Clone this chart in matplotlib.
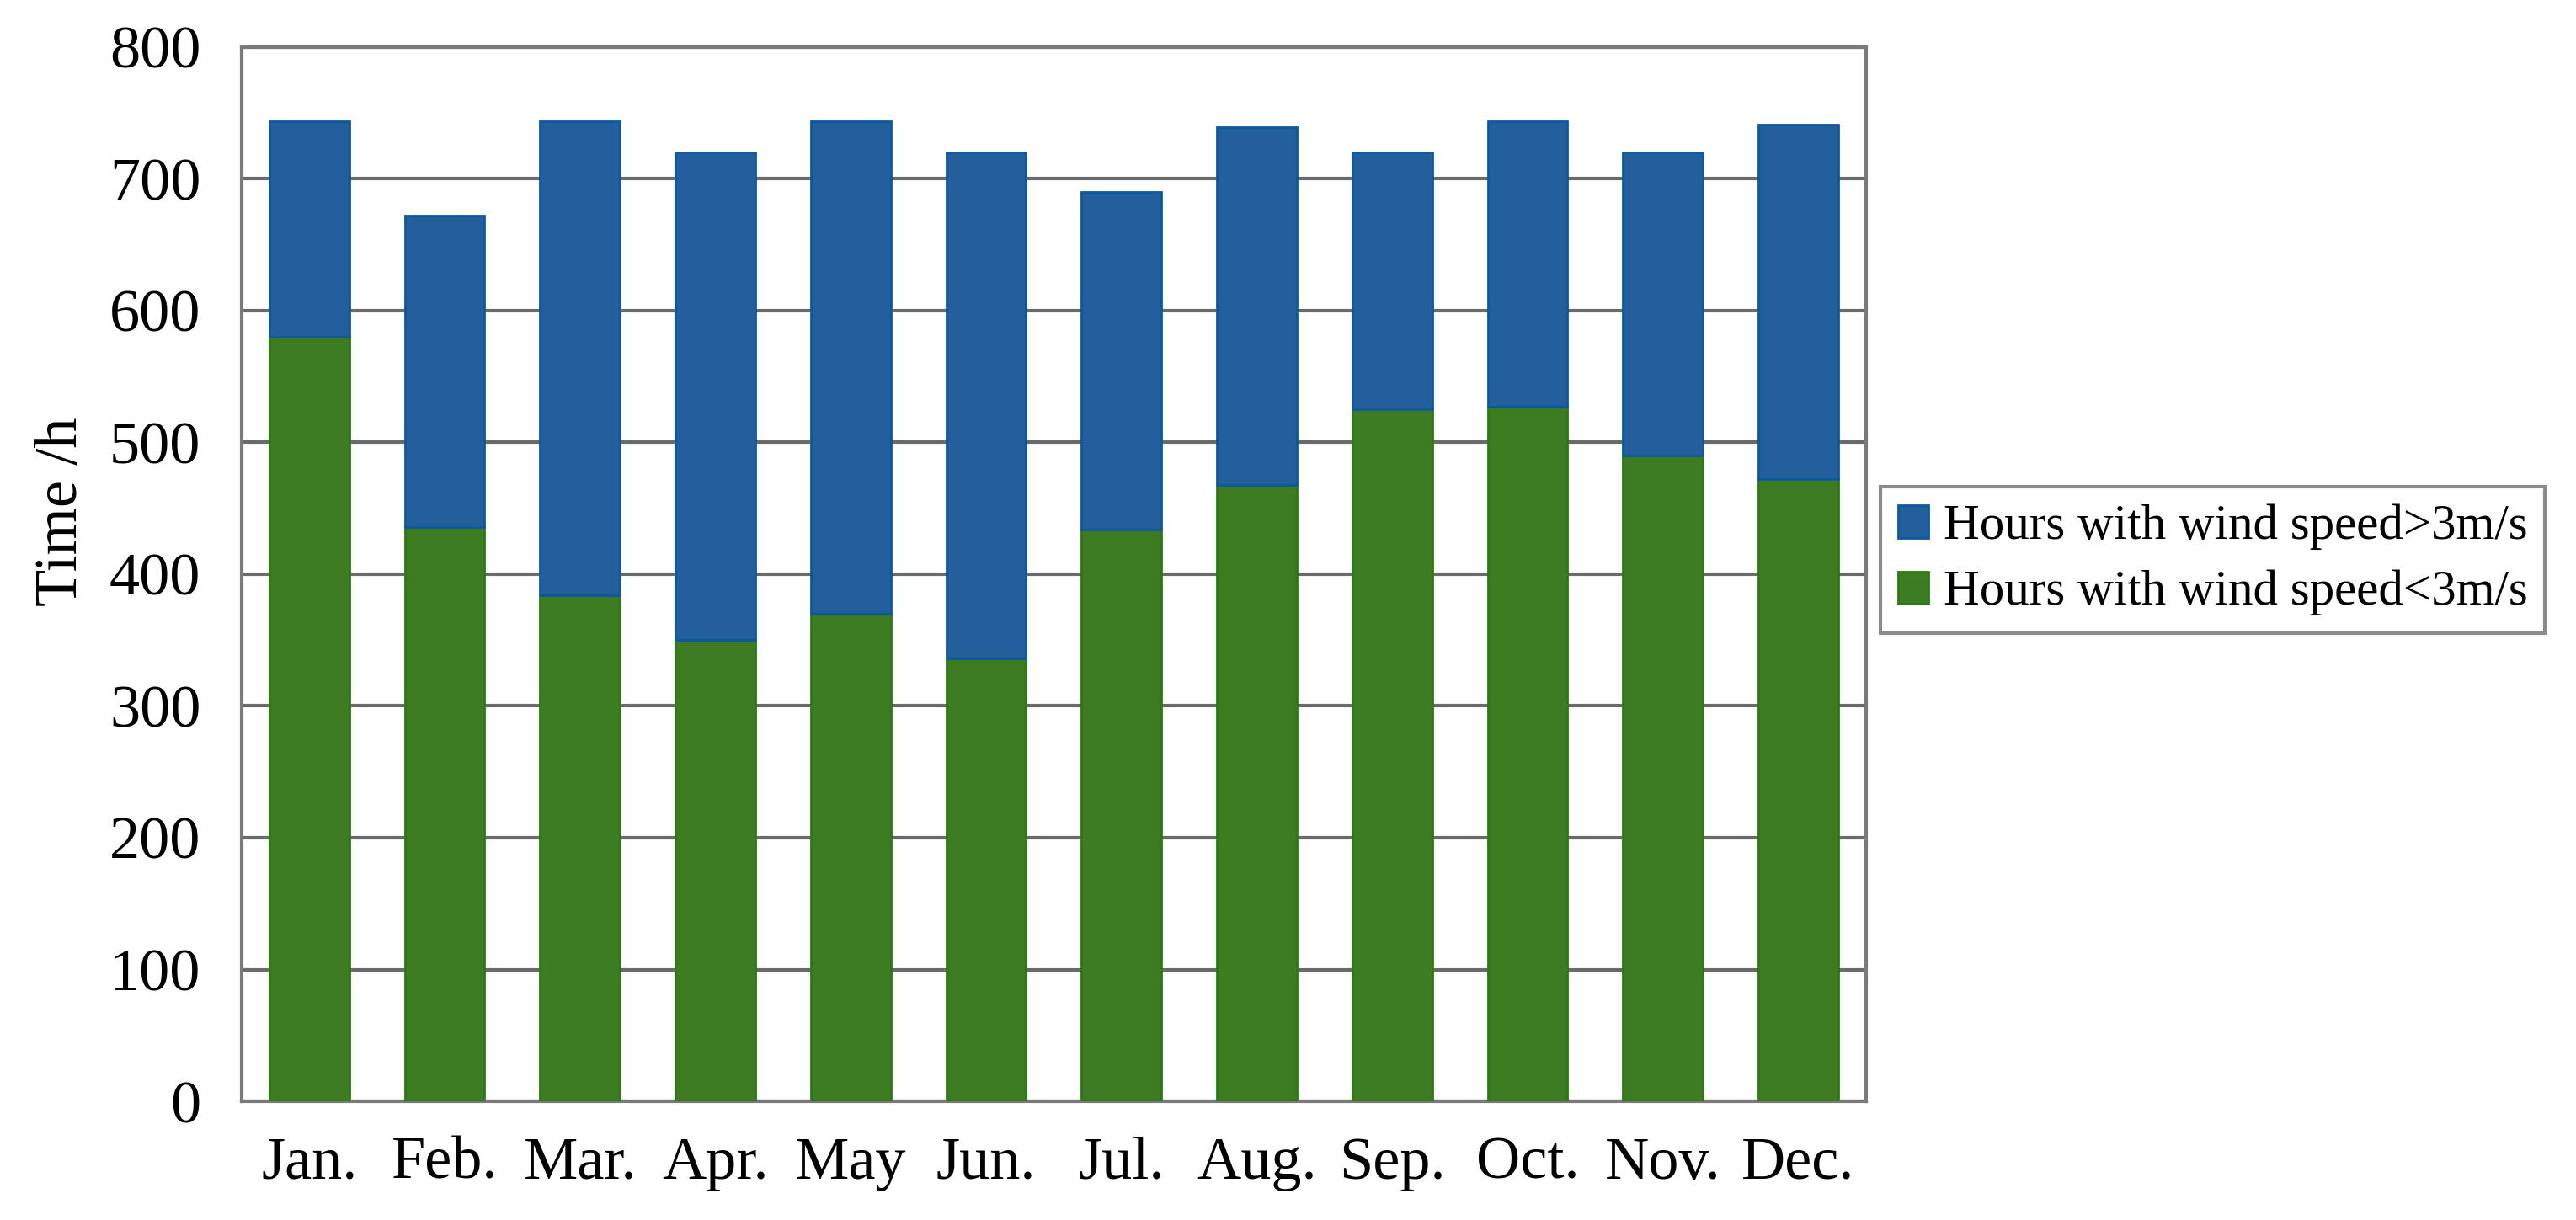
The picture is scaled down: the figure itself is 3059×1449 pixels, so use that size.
import numpy as np
import matplotlib.pyplot as plt

months = ['Jan.', 'Feb.', 'Mar.', 'Apr.', 'May', 'Jun.', 'Jul.', 'Aug.', 'Sep.', 'Oct.', 'Nov.', 'Dec.']
# hours per month
hours_low = [580, 436, 384, 350, 370, 336, 434, 468, 525, 527, 490, 472]    # wind speed < 3 m/s
hours_high = [164, 236, 360, 370, 374, 384, 256, 271, 195, 217, 230, 269]   # wind speed > 3 m/s

plt.rcParams['font.family'] = ['Liberation Serif', 'DejaVu Serif']

fig = plt.figure(figsize=(30.59, 14.49), dpi=100)
ax = fig.add_axes([0.0938, 0.0973, 0.6306, 0.8641])

x = np.arange(len(months))
ax.bar(x, hours_low, width=0.59, color='#3d7c23', edgecolor='#2b7a12', lw=2,
       label='Hours with wind speed<3m/s', zorder=3)
ax.bar(x, hours_high, width=0.59, bottom=hours_low, color='#23609b', edgecolor='#0d58a0', lw=2,
       label='Hours with wind speed>3m/s', zorder=3)

ax.set_xlim(-0.5, 11.5)
ax.set_ylim(0, 800)
ax.set_yticks(np.arange(0, 801, 100))
ax.set_xticks(x)
ax.set_xticklabels(months)
ax.yaxis.grid(True, color='#6a6a6a', lw=3, zorder=0)
ax.set_axisbelow(True)
for s in ax.spines.values():
    s.set_color('#7a7a7a')
    s.set_linewidth(3)
ax.tick_params(axis='x', length=0, pad=30, labelsize=52)
ax.tick_params(axis='y', length=0, pad=35, labelsize=52)
ax.set_ylabel('Time /h', fontsize=52)
ax.yaxis.set_label_coords(-0.094, 0.559)

# legend: >3 first, like the reference
h, l = ax.get_legend_handles_labels()
leg = fig.legend(h[::-1], l[::-1], loc='upper left', bbox_to_anchor=(0.73, 0.601),
                 borderaxespad=0, fontsize=42.5, frameon=True, fancybox=False,
                 handlelength=0.62, handleheight=0.62, handletextpad=0.3,
                 borderpad=0.35, labelspacing=0.4)
leg.get_frame().set_edgecolor('#6e6e6e')
leg.get_frame().set_linewidth(3)

fig.savefig('out.png', dpi=100)
